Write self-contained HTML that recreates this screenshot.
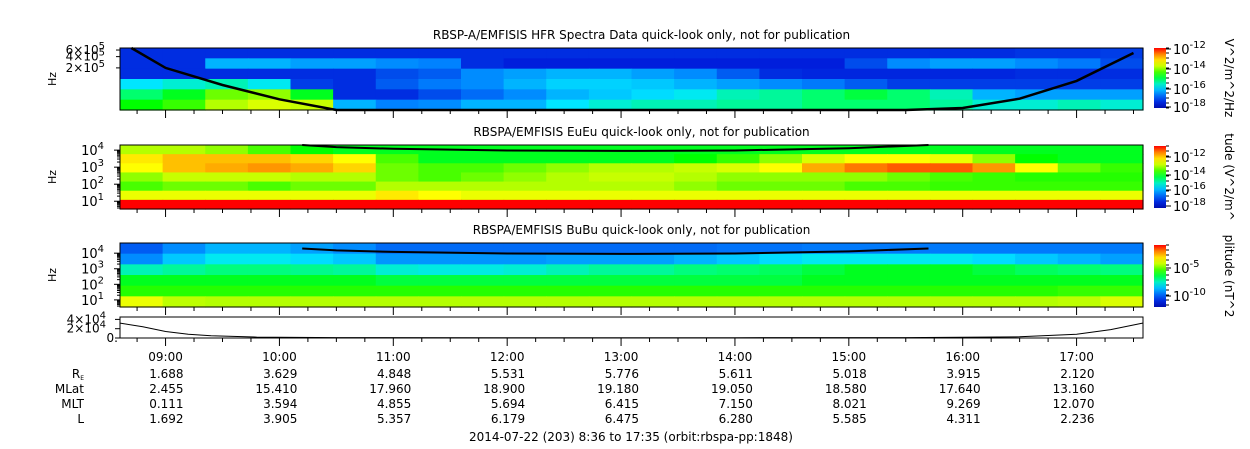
<!DOCTYPE html>
<html><head><meta charset="utf-8"><style>
body{margin:0;background:#fff;}
svg{display:block;font-family:"DejaVu Sans","Liberation Sans",sans-serif;}
</style></head><body>
<svg id="c" width="1250" height="449" viewBox="0 0 1250 449"></svg>
<script>
// ---- data ----
const hourTicks = [9,10,11,12,13,14,15,16,17];
const hourLabels = ["09:00","10:00","11:00","12:00","13:00","14:00","15:00","16:00","17:00"];
const rowNames = ["R","MLat","MLT","L"];
const reVals = ["1.688","3.629","4.848","5.531","5.776","5.611","5.018","3.915","2.120"];
const mlatVals = ["2.455","15.410","17.960","18.900","19.180","19.050","18.580","17.640","13.160"];
const mltVals = ["0.111","3.594","4.855","5.694","6.415","7.150","8.021","9.269","12.070"];
const lVals = ["1.692","3.905","5.357","6.179","6.475","6.280","5.585","4.311","2.236"];
// spectrogram levels (0..1 of colour scale), rows top->bottom, 24 time columns
const hfrRows = [
[.14,.14,.14,.14,.14,.14,.14,.14,.14,.14,.14,.14,.14,.14,.14,.14,.14,.14,.14,.14,.14,.15,.15,.16],
[.14,.14,.3,.3,.28,.28,.26,.25,.14,.12,.12,.12,.12,.12,.12,.12,.12,.18,.26,.28,.28,.26,.24,.18],
[.14,.14,.14,.14,.14,.14,.18,.2,.26,.28,.3,.3,.28,.26,.2,.14,.13,.13,.13,.13,.13,.14,.14,.14],
[.35,.38,.4,.36,.16,.14,.2,.24,.26,.3,.33,.33,.32,.3,.28,.26,.24,.2,.16,.16,.16,.16,.16,.16],
[.45,.5,.58,.6,.5,.14,.14,.18,.22,.26,.3,.32,.34,.36,.4,.42,.45,.48,.45,.4,.3,.28,.28,.28],
[.52,.55,.62,.66,.64,.3,.25,.26,.3,.3,.35,.38,.4,.4,.42,.42,.45,.45,.45,.42,.38,.38,.4,.38]];
const eRows = [
[.62,.62,.6,.56,.52,.5,.5,.5,.5,.5,.5,.5,.5,.5,.5,.5,.5,.5,.5,.5,.5,.5,.5,.5],
[.72,.76,.76,.76,.74,.7,.56,.5,.5,.5,.5,.5,.5,.52,.55,.6,.66,.7,.7,.68,.6,.52,.5,.5],
[.7,.76,.78,.8,.78,.74,.58,.56,.56,.58,.6,.62,.62,.64,.66,.7,.78,.82,.84,.84,.8,.7,.58,.55],
[.6,.64,.64,.64,.62,.62,.58,.56,.58,.6,.62,.64,.64,.62,.6,.6,.6,.6,.58,.56,.55,.54,.54,.54],
[.56,.58,.58,.56,.58,.58,.62,.62,.62,.62,.62,.62,.62,.6,.58,.58,.58,.56,.56,.55,.55,.55,.55,.55],
[.68,.68,.68,.68,.68,.68,.72,.7,.68,.68,.68,.68,.68,.68,.68,.68,.68,.68,.68,.68,.68,.68,.68,.68],
[.9,.9,.9,.9,.9,.9,.9,.9,.9,.9,.9,.9,.9,.9,.9,.9,.9,.9,.9,.9,.9,.9,.9,.9]];
const bRows = [
[.2,.26,.3,.3,.28,.26,.22,.22,.22,.22,.22,.22,.22,.22,.23,.23,.24,.24,.24,.24,.24,.24,.24,.24],
[.26,.32,.36,.36,.34,.32,.27,.27,.27,.27,.28,.28,.28,.3,.32,.34,.36,.36,.36,.36,.34,.32,.3,.28],
[.4,.42,.44,.44,.43,.42,.38,.37,.37,.38,.4,.42,.42,.44,.45,.46,.48,.5,.5,.5,.48,.46,.45,.44],
[.5,.5,.5,.5,.5,.5,.48,.48,.48,.48,.48,.48,.48,.48,.48,.48,.5,.5,.5,.5,.5,.5,.5,.5],
[.54,.54,.54,.54,.54,.54,.54,.54,.54,.54,.54,.54,.54,.54,.54,.54,.54,.54,.54,.54,.54,.54,.55,.55],
[.68,.63,.62,.62,.62,.62,.62,.62,.62,.62,.62,.62,.62,.62,.62,.62,.62,.62,.62,.62,.62,.62,.63,.66]];
// black curves (hours, Hz)
const curveT = [8.7,9,9.5,10,10.5,11,12,13,14,15,15.5,16,16.5,17,17.5];
const hfrCurveHz = [6.8e5,2e5,7e4,2.9e4,1.5e4,1.2e4,9e3,8e3,9e3,1.2e4,1.4e4,1.7e4,3e4,9e4,5e5];
const feCurveT = [10.2,10.5,11,12,13,14,15,15.7];
const feCurveHz = [2e4,1.5e4,1.2e4,9.5e3,9e3,9.5e3,1.3e4,2e4];
// ephemeris line (hours, value)
const ephT = [8.6,8.8,9.0,9.2,9.4,9.8,10.5,12,14,15.5,16.5,17.0,17.3,17.58];
const ephV = [3.2e4,2.4e4,1.4e4,8e3,5e3,2e3,800,600,600,900,2500,8000,1.8e4,3.2e4];

// ---- helpers ----
const svg=document.getElementById('c');const NS='http://www.w3.org/2000/svg';
function mk(tag,at,parent){const e=document.createElementNS(NS,tag);for(const k in at)e.setAttribute(k,at[k]);(parent||svg).appendChild(e);return e;}
const CM=[[0,0,0,140],[.12,0,30,220],[.25,0,130,255],[.35,0,230,255],[.45,0,255,110],[.52,0,255,0],[.62,180,255,0],[.7,255,255,0],[.8,255,150,0],[.9,255,0,0],[1,200,0,0]];
function jet(v){v=Math.max(0,Math.min(1,v));for(let i=1;i<CM.length;i++){if(v<=CM[i][0]){const a=CM[i-1],b=CM[i],f=(v-a[0])/(b[0]-a[0]);
 return `rgb(${Math.round(a[1]+f*(b[1]-a[1]))},${Math.round(a[2]+f*(b[2]-a[2]))},${Math.round(a[3]+f*(b[3]-a[3]))})`;}}return 'rgb(200,0,0)';}
const X0=120,X1=1143,T0=8.6,T1=17.5833;
const xT=t=>X0+(t-T0)/(T1-T0)*(X1-X0);
function logY(top,bot,lo,hi){return v=>bot-(Math.log10(v)-Math.log10(lo))/(Math.log10(hi)-Math.log10(lo))*(bot-top);}

const panels=[
{top:48,bot:110,rows:hfrRows,title:"RBSP-A/EMFISIS  HFR Spectra Data quick-look only, not for publication",name:"hfr"},
{top:145,bot:209,rows:eRows,title:"RBSPA/EMFISIS  EuEu quick-look only, not for publication",name:"eueu"},
{top:243,bot:307,rows:bRows,title:"RBSPA/EMFISIS  BuBu quick-look only, not for publication",name:"bubu"}];

function ticksX(top,bot){
 for(let m=0;m<=36;m++){const t=8.75+m*0.25;if(t>T1)break;const x=xT(t);const maj=Math.abs(t-Math.round(t))<1e-6;
  const l=mk('line',{x1:x,x2:x,y1:bot,y2:bot+(maj?8:4),stroke:'#000','stroke-width':1});
  }
}
panels.forEach(p=>{
 const g=mk('g',{});
 const nr=p.rows.length,nc=p.rows[0].length,h=(p.bot-p.top)/nr,w=(X1-X0)/nc;
 p.rows.forEach((r,i)=>r.forEach((v,j)=>{
  const c=mk('rect',{x:X0+j*w,y:p.top+i*h,width:w+0.6,height:h+0.6,fill:jet(v)},g);
  }));
 const t=mk('text',{x:(X0+X1)/2+10,y:p.top-9,'text-anchor':'middle','font-size':12,'xml:space':'preserve'});t.textContent=p.title;
 
 const yl=mk('text',{x:56,y:(p.top+p.bot)/2,'text-anchor':'middle','font-size':11,transform:`rotate(-90 56 ${(p.top+p.bot)/2})`});yl.textContent='Hz';
 
 ticksX(p.top,p.bot);
});
// P1 curve & axis
const y1=logY(48,110,1.5e4,6.8e5);
let d='';curveT.forEach((t,i)=>{d+=(i?'L':'M')+xT(t).toFixed(1)+','+Math.min(110,y1(hfrCurveHz[i])).toFixed(1);});
let pc=mk('path',{d:d,fill:'none',stroke:'#000','stroke-width':2.5});
[[6e5,'6×10'],[4e5,'4×10'],[2e5,'2×10']].forEach(([v,s])=>{const y=y1(v);mk('line',{x1:X0-4,x2:X0,y1:y,y2:y,stroke:'#000'});
 const t=mk('text',{x:X0-15,y:y+4,'text-anchor':'end','font-size':12});t.textContent=s;const sp=mk('tspan',{dy:-5,'font-size':10},t);sp.textContent='5';
 });
// P2/P3
[[145,209],[243,307]].forEach(([top,bot],k)=>{
 const yy=logY(top,bot,3.5,k?4.5e4:2e4);
 let dd='';feCurveT.forEach((t,i)=>{dd+=(i?'L':'M')+xT(t).toFixed(1)+','+Math.max(top,yy(feCurveHz[i])).toFixed(1);});
 const c=mk('path',{d:dd,fill:'none',stroke:'#000','stroke-width':2});
 [1,2,3,4].forEach(e=>{const y=yy(Math.pow(10,e));mk('line',{x1:X0-6,x2:X0,y1:y,y2:y,stroke:'#000'});
  for(let m=2;m<10;m++){const ym=yy(m*Math.pow(10,e-1));if(ym>top&&ym<bot)mk('line',{x1:X0-3,x2:X0,y1:ym,y2:ym,stroke:'#000'});}
  const t=mk('text',{x:X0-16,y:y+5,'text-anchor':'end','font-size':13});t.textContent='10';const sp=mk('tspan',{dy:-6,'font-size':10},t);sp.textContent=e;
  });
});
panels.forEach(p=>{const r=mk('rect',{x:X0,y:p.top,width:X1-X0,height:p.bot-p.top,fill:'none',stroke:'#000'});});
// ephemeris panel
const y4=v=>338-v/4.3e4*20;
let d4='';ephT.forEach((t,i)=>{d4+=(i?'L':'M')+xT(t).toFixed(1)+','+y4(ephV[i]).toFixed(1);});
const pl=mk('path',{d:d4,fill:'none',stroke:'#000','stroke-width':1});
const f4=mk('rect',{x:X0,y:317,width:X1-X0,height:21,fill:'none',stroke:'#000'});
[[4e4,'4×10','4'],[2e4,'2×10','4'],[0,'0.','']].forEach(([v,s,e])=>{const y=y4(v);mk('line',{x1:X0-5,x2:X0,y1:y,y2:y,stroke:'#000'});
 const t=mk('text',{x:X0-(e?14:2),y:y+4,'text-anchor':'end','font-size':12});t.textContent=s;if(e){const sp=mk('tspan',{dy:-5,'font-size':10},t);sp.textContent=e;}
 });
ticksX(317,338);
// colorbars
const defs=mk('defs',{});const gr=mk('linearGradient',{id:'jet',x1:0,y1:1,x2:0,y2:0},defs);
for(let i=0;i<=10;i++)mk('stop',{offset:i/10,'stop-color':jet(0.05+i*0.085)},gr);
const cbs=[{top:48,bot:108,labs:[['-12',49],['-14',69],['-16',89],['-18',107]],title:'V^2/m^2/Hz'},
{top:146,bot:208,labs:[['-12',157],['-14',175],['-16',190],['-18',206]],title:'tude (V^2/m^'},
{top:245,bot:307,labs:[['-5',268],['-10',296]],title:'plitude (nT^2'}];
cbs.forEach((c,k)=>{const r=mk('rect',{x:1154,y:c.top,width:12,height:c.bot-c.top,fill:'url(#jet)'});
 for(let y=c.top;y<=c.bot;y+=5)mk('line',{x1:1166,x2:1169,y1:y,y2:y,stroke:'#000'});
 c.labs.forEach(([e,y])=>{mk('line',{x1:1166,x2:1171,y1:y,y2:y,stroke:'#000'});const t=mk('text',{x:1173,y:y+5,'font-size':13});t.textContent='10';const sp=mk('tspan',{dy:-6,'font-size':10},t);sp.textContent=e;
  });
 const cy=(c.top+c.bot)/2;const t=mk('text',{x:1225,y:cy,'text-anchor':'middle','font-size':12,transform:`rotate(90 1225 ${cy})`});t.textContent=c.title;
 });
// time labels and ephemeris rows
hourTicks.forEach((h,i)=>{const t=mk('text',{x:xT(h),y:361,'text-anchor':'middle','font-size':12});t.textContent=hourLabels[i];
 });
const rowsData=[reVals,mlatVals,mltVals,lVals];
rowsData.forEach((vals,r)=>{const y=378+r*15;
 const n=mk('text',{x:84,y:y,'text-anchor':'end','font-size':12});n.textContent=rowNames[r];
 if(r===0){const s=mk('tspan',{dy:2,'font-size':6},n);s.textContent='E';}
 
 vals.forEach((v,i)=>{const t=mk('text',{x:xT(hourTicks[i])+18,y:y,'text-anchor':'end','font-size':12});t.textContent=v;
  });});
const ft=mk('text',{x:631,y:441,'text-anchor':'middle','font-size':12});ft.textContent='2014-07-22 (203) 8:36 to 17:35 (orbit:rbspa-pp:1848)';

</script>
</body></html>
